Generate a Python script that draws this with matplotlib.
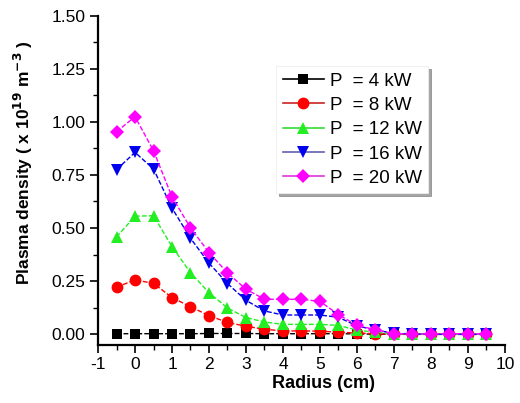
import matplotlib
matplotlib.use('Agg')
import matplotlib.pyplot as plt
from matplotlib.lines import Line2D
from matplotlib.ticker import MultipleLocator

plt.rcParams['font.family'] = ['Liberation Sans', 'DejaVu Sans']
plt.rcParams['axes.unicode_minus'] = False

# радиус, см
radius = [-0.5, 0, 0.5, 1, 1.5, 2, 2.5, 3, 3.5, 4, 4.5, 5, 5.5, 6, 6.5, 7, 7.5, 8, 8.5, 9, 9.5]

# плотность плазмы, 1e19 м^-3
p4 = [0.003, 0.003, 0.003, 0.003, 0.003, 0.004, 0.004, 0.004, 0.003, 0.003, 0.003,
      0.003, 0.003, 0.002, 0.001, 0.0, 0.0, 0.0, 0.0, 0.0, 0.0]
p8 = [0.222, 0.256, 0.240, 0.173, 0.130, 0.088, 0.056, 0.038, 0.024, 0.016, 0.016,
      0.015, 0.010, 0.006, 0.003, 0.001, 0.0, 0.0, 0.0, 0.0, 0.0]
p12 = [0.458, 0.556, 0.558, 0.413, 0.290, 0.196, 0.124, 0.079, 0.058, 0.047, 0.047,
       0.047, 0.042, 0.020, 0.010, 0.002, 0.001, 0.0, 0.0, 0.0, 0.0]
p16 = [0.775, 0.856, 0.778, 0.594, 0.452, 0.335, 0.239, 0.160, 0.110, 0.091, 0.091,
       0.091, 0.080, 0.040, 0.020, 0.005, 0.002, 0.0, 0.0, 0.0, 0.0]
p20 = [0.953, 1.024, 0.864, 0.647, 0.501, 0.385, 0.289, 0.212, 0.165, 0.165, 0.165,
       0.155, 0.093, 0.042, 0.022, 0.003, 0.002, 0.002, 0.003, 0.002, 0.002]

labels = ['P  = 4 kW', 'P  = 8 kW', 'P  = 12 kW', 'P  = 16 kW', 'P  = 20 kW']
series = [p4, p8, p12, p16, p20]
colors = ['#000000', '#ff0000', '#22ee22', '#0000ee', '#ff00ff']
leg_line = ['#000000', '#cc2222', '#33dd33', '#6060b0', '#dd33dd']
markers = ['s', 'o', '^', 'v', 'D']
msizes = [6.5, 8.5, 9, 9, 7.5]

fig = plt.figure(figsize=(5.2, 4.03), dpi=100)
ax = fig.add_axes([0.1885, 0.144, 0.7825, 0.8175])

for y, c, m, ms in zip(series, colors, markers, msizes):
    ax.plot(radius, y, color=c, marker=m, markersize=ms, linestyle=(0, (3.5, 1.5)),
            linewidth=1.0, markeredgewidth=0)

ax.set_xlim(-1, 10)
ax.set_ylim(-0.05, 1.5)
ax.xaxis.set_major_locator(MultipleLocator(1))
ax.xaxis.set_minor_locator(MultipleLocator(0.5))
ax.yaxis.set_minor_locator(MultipleLocator(0.125))
ax.set_yticks([0, 0.25, 0.5, 0.75, 1.0, 1.25, 1.5])
ax.set_yticklabels(['0.00', '0.25', '0.50', '0.75', '1.00', '1.25', '1.50'])

for s in ['top', 'right']:
    ax.spines[s].set_visible(False)
for s in ['left', 'bottom']:
    ax.spines[s].set_linewidth(1.6)
ax.tick_params(which='major', direction='out', length=6, width=1.2, labelsize=12.5, pad=3)
ax.tick_params(which='minor', direction='out', length=3.5, width=1.0)

ax.set_xlabel('Radius (cm)', fontsize=13, fontweight='bold')
ax.xaxis.set_label_coords(0.553, -0.09)
ax.set_ylabel(r'Plasma density ( x 10$^{\mathbf{19}}$ m$^{\mathbf{-3}}$ )', fontsize=12.5,
              fontweight='bold')
ax.yaxis.set_label_coords(-0.155, 0.555)

handles = [Line2D([0], [0], color=lc, marker=m, markerfacecolor=c, markeredgewidth=0,
                  markersize=ms, linewidth=1.2)
           for c, lc, m, ms in zip(colors, leg_line, markers, msizes)]
leg = ax.legend(handles, labels, loc='upper left', bbox_to_anchor=(0.415, 0.875),
                fontsize=13.5, frameon=True, fancybox=False, shadow=True,
                handlelength=2.2, handletextpad=0.3, labelspacing=0.38,
                borderpad=0.35)
leg.get_frame().set_edgecolor('#eeeeee')
leg.get_frame().set_linewidth(0.6)

fig.savefig('out.png', dpi=100)
